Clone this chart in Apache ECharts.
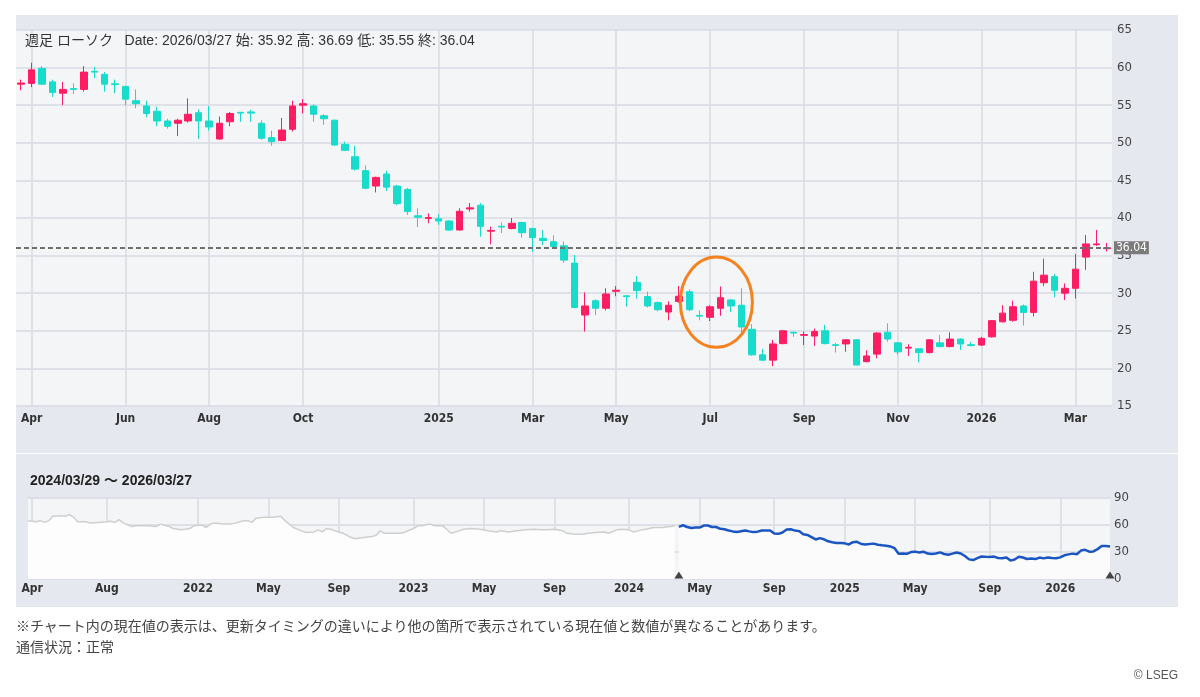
<!DOCTYPE html>
<html>
<head>
<meta charset="utf-8">
<script src="https://cdn.jsdelivr.net/npm/echarts@6/dist/echarts.min.js"></script>
<style>
  body { margin: 0; background: #fff; font-family: "Liberation Sans", "Noto Sans CJK JP", sans-serif; }
  #wrap { position: relative; width: 1200px; height: 697px; overflow: hidden; }
  .panel { position: absolute; left: 16px; width: 1162px; background: #e6e8f0; }
  #p1 { top: 15px; height: 438px; }
  #p2 { top: 454px; height: 153px; }
  #chart { position: absolute; left: 0; top: 0; width: 1200px; height: 697px; }
  .note { position: absolute; left: 16px; font-size: 14px; color: #444; }
  #copy { position: absolute; right: 22px; top: 668px; font-size: 12px; color: #555; }
</style>
</head>
<body>
<div id="wrap">
  <div class="panel" id="p1"></div>
  <div class="panel" id="p2"></div>
  <div id="chart"></div>
  <div class="note" style="top:615px">※チャート内の現在値の表示は、更新タイミングの違いにより他の箇所で表示されている現在値と数値が異なることがあります。</div>
  <div class="note" style="top:636px">通信状況：正常</div>
  <div id="copy">© LSEG</div>
</div>
<script>
// 週足 2024/03/29 ～ 2026/03/27 (105本)
var opens = [57.8, 57.9, 59.9, 58.1, 56.6, 57.2, 57.1, 59.5, 59.1, 57.85,
  57.5, 55.6, 54.9, 54.2, 52.9, 52.6, 52.9, 54.0, 52.9, 50.5,
  52.8, 54.05, 54.1, 52.6, 50.7, 50.3, 51.8, 55.0, 54.9, 53.6,
  53.0, 49.8, 48.15, 46.3, 44.25, 45.85, 44.25, 43.8, 40.3, 39.95,
  39.9, 39.6, 38.4, 41.2, 41.7, 38.25, 38.9, 38.6, 39.4, 38.6,
  37.3, 36.85, 36.3, 34.0, 27.1, 29.0, 28.0, 30.25, 29.65, 31.45,
  29.55, 28.75, 27.5, 28.9, 30.2, 27.05, 26.8, 28.0, 29.1, 28.4,
  25.2, 21.8, 21.1, 23.3, 24.8, 24.4, 24.3, 25.0, 23.15, 23.25,
  23.8, 20.9, 21.9, 24.8, 23.4, 22.7, 22.6, 22.1, 23.4, 22.9,
  23.9, 23.15, 23.1, 24.2, 26.2, 26.4, 28.3, 27.45, 31.4, 32.2,
  30.0, 30.65, 34.8, 36.45, 35.92];
var closes = [57.95, 59.7, 57.8, 56.7, 57.1, 57.1, 59.4, 59.4, 57.8, 57.75,
  55.8, 55.2, 53.9, 52.9, 52.2, 53.0, 53.8, 52.9, 52.1, 52.6,
  53.9, 53.95, 53.95, 50.6, 50.15, 51.7, 54.9, 55.2, 53.8, 53.2,
  49.7, 49.0, 46.5, 43.95, 45.4, 44.1, 41.9, 40.85, 40.1, 40.05,
  39.6, 38.4, 40.9, 41.35, 38.9, 38.35, 38.8, 39.3, 38.05, 37.4,
  37.0, 36.2, 34.4, 28.1, 28.3, 28.0, 29.9, 30.4, 29.55, 30.35,
  28.3, 27.8, 28.4, 29.6, 27.8, 26.95, 28.2, 29.4, 28.3, 25.5,
  21.8, 21.1, 23.25, 25.0, 24.7, 24.5, 24.9, 23.3, 23.05, 23.8,
  20.45, 21.65, 24.7, 23.9, 22.2, 22.8, 22.1, 23.8, 22.9, 23.9,
  23.25, 23.05, 24.0, 26.35, 27.35, 28.2, 27.45, 31.6, 32.4, 30.4,
  30.65, 33.2, 36.55, 36.55, 36.04];
var lows = [57.0, 57.4, 57.7, 56.1, 55.0, 56.5, 56.8, 58.6, 56.8, 56.6,
  55.0, 54.6, 53.4, 52.2, 51.9, 50.9, 52.7, 50.5, 51.6, 50.4,
  52.2, 52.8, 52.8, 50.4, 49.6, 50.2, 51.5, 53.9, 52.8, 52.4,
  49.6, 48.9, 46.3, 43.9, 43.4, 43.6, 41.7, 40.4, 38.8, 39.3,
  39.1, 38.3, 38.35, 40.85, 37.5, 36.5, 38.0, 38.5, 37.4, 35.5,
  36.4, 36.0, 34.05, 28.0, 24.9, 27.1, 27.7, 29.6, 28.2, 29.3,
  28.1, 27.6, 26.4, 28.7, 27.6, 26.4, 26.3, 27.0, 27.5, 24.3,
  21.7, 21.0, 20.3, 23.2, 24.2, 23.1, 23.0, 23.2, 22.1, 22.2,
  20.4, 20.8, 21.35, 23.55, 21.8, 21.65, 20.8, 22.0, 22.8, 22.8,
  22.45, 22.9, 23.0, 24.1, 26.1, 26.2, 25.7, 26.9, 30.95, 29.45,
  29.1, 29.3, 33.1, 36.3, 35.55];
var highs = [58.4, 60.65, 60.2, 58.4, 58.1, 57.9, 60.2, 60.1, 59.4, 58.4,
  57.6, 57.1, 55.6, 54.8, 53.2, 53.2, 55.9, 54.45, 54.9, 53.5,
  54.1, 54.1, 54.4, 53.0, 51.6, 53.3, 55.6, 55.8, 55.1, 53.8,
  53.1, 50.15, 49.6, 47.0, 45.5, 46.3, 44.4, 44.0, 41.3, 40.6,
  40.5, 39.7, 41.3, 42.0, 42.0, 38.85, 39.4, 40.0, 39.5, 38.7,
  38.4, 37.7, 36.85, 35.1, 30.1, 29.2, 30.65, 30.95, 29.7, 32.3,
  30.2, 28.9, 28.9, 30.95, 30.5, 27.7, 28.4, 30.9, 29.2, 30.65,
  25.9, 22.6, 23.8, 25.1, 24.9, 24.9, 25.3, 25.8, 23.4, 23.9,
  23.9, 22.4, 24.8, 26.0, 23.5, 23.2, 22.7, 23.9, 24.45, 24.8,
  24.0, 23.55, 24.2, 26.4, 28.4, 29.0, 28.5, 32.85, 34.6, 32.55,
  31.3, 35.2, 37.75, 38.4, 36.69];

// ナビゲーター (2021/03/26 からの週番号, 値) 2024/03/22 まで
var grayPoints = [[0,64.8],[2,63.6],[3,64.8],[4,62.9],[5,64.8],[6,69.7],[8,70.4],[9,69.7],[10,71.6],[11,68.5],
  [12,63.6],[14,63.6],[15,62.1],[17,62.9],[19,63.6],[20,64.2],[21,62.9],[22,65.9],[23,62.1],[25,58.4],
  [26,59.1],[29,59.1],[31,58.4],[32,61.0],[34,58.4],[35,56.1],[37,54.6],[39,56.1],[40,59.1],[42,59.9],
  [43,57.2],[44,61.0],[45,62.1],[47,61.0],[49,61.0],[50,62.1],[52,64.8],[53,64.8],[54,62.9],[55,67.4],
  [57,68.5],[59,68.5],[61,69.7],[62,64.8],[64,57.2],[66,53.5],[67,51.6],[69,52.3],[70,54.6],[71,52.3],
  [72,56.1],[73,55.3],[75,52.3],[76,50.8],[78,46.0],[79,44.8],[81,46.0],[83,47.1],[84,48.6],[85,53.5],
  [86,50.8],[88,50.8],[90,50.8],[91,52.3],[93,56.1],[94,59.1],[95,59.1],[97,61.0],[98,59.1],[100,59.1],
  [101,55.3],[102,50.8],[104,53.5],[105,55.3],[107,56.1],[109,55.3],[111,53.5],[113,52.3],[114,53.5],[116,52.3],
  [118,53.5],[120,54.6],[122,55.3],[124,54.6],[125,54.6],[127,55.3],[129,53.5],[130,50.8],[132,49.7],[134,49.7],
  [135,50.8],[137,51.6],[139,52.3],[140,50.8],[142,54.6],[143,55.3],[145,54.6],[146,52.3],[148,54.6],[149,55.3],
  [151,57.2],[153,57.2],[155,58.4],[156,59.1]];

var mainLabelMonths = ['2024-04','2024-06','2024-08','2024-10','2025-01','2025-03','2025-05',
  '2025-07','2025-09','2025-11','2026-01','2026-03'];
var navLabelMonths = ['2021-04','2021-08','2022-01','2022-05','2022-09','2023-01','2023-05',
  '2023-09','2024-01','2024-05','2024-09','2025-01','2025-05','2025-09','2026-01'];
var monthNames = ['Jan','Feb','Mar','Apr','May','Jun','Jul','Aug','Sep','Oct','Nov','Dec'];

function pad(n) { return (n < 10 ? '0' : '') + n; }
var navDates = [];
var t0 = Date.UTC(2021, 2, 26);
for (var w = 0; w < 262; w++) {
  var d = new Date(t0 + w * 7 * 86400000);
  navDates.push(d.getUTCFullYear() + '/' + pad(d.getUTCMonth() + 1) + '/' + pad(d.getUTCDate()));
}
var mainDates = navDates.slice(157);

function tickSet(dates, months) {
  var s = {};
  dates.forEach(function (v, i) {
    var key = v.slice(0, 7).replace('/', '-');
    var prev = i > 0 ? dates[i - 1].slice(0, 7).replace('/', '-') : null;
    if (months.indexOf(key) >= 0 && key !== prev) s[v] = true;
  });
  return s;
}
var mainTicks = tickSet(mainDates, mainLabelMonths);
var navTicks = tickSet(navDates, navLabelMonths);

function fmtDate(v) {
  var m = parseInt(v.slice(5, 7), 10);
  return m === 1 ? v.slice(0, 4) : monthNames[m - 1];
}

var last = closes.length - 1;
var header = '週足 ローソク   Date: ' + mainDates[last] + ' 始: ' + opens[last].toFixed(2) +
  ' 高: ' + highs[last].toFixed(2) + ' 低: ' + lows[last].toFixed(2) + ' 終: ' + closes[last].toFixed(2);

var candles = mainDates.map(function (d, i) { return [opens[i], closes[i], lows[i], highs[i]]; });
var narrow = '"Liberation Sans Narrow", "DejaVu Sans Condensed", sans-serif';
var gridColor = '#d9dae4';

var myChart = echarts.init(document.getElementById('chart'));
myChart.setOption({
  animation: false,
  backgroundColor: 'transparent',
  title: [
    { text: header, left: 20, top: 29,
      textStyle: { fontSize: 14, fontWeight: 'normal', color: '#333', fontFamily: '"Liberation Sans", "Noto Sans CJK JP"' } },
    { text: mainDates[0] + ' ～ ' + mainDates[last], left: 25, top: 469,
      textStyle: { fontSize: 14, fontWeight: 'bold', color: '#222', fontFamily: '"Liberation Sans", "Noto Sans CJK JP"' } }
  ],
  grid: [
    { left: 16, right: 88, top: 30, height: 376, show: true, backgroundColor: '#f4f5f7', borderWidth: 0 },
    { left: 28, right: 90, top: 498, height: 81, show: true, backgroundColor: '#f4f5f7', borderWidth: 0 }
  ],
  xAxis: [
    { type: 'category', gridIndex: 0, data: mainDates, boundaryGap: true,
      axisLine: { show: false }, axisTick: { show: false },
      axisLabel: { interval: function (i, v) { return !!mainTicks[v]; }, formatter: fmtDate,
        color: '#333', fontSize: 12, fontWeight: 'bold', fontFamily: narrow, margin: 7 },
      splitLine: { show: true, alignWithLabel: true, interval: function (i, v) { return !!mainTicks[v]; },
        lineStyle: { color: gridColor, width: 1.5 } } },
    { type: 'category', gridIndex: 1, data: navDates, boundaryGap: false,
      axisLine: { show: false }, axisTick: { show: false },
      axisLabel: { interval: function (i, v) { return !!navTicks[v]; }, formatter: fmtDate,
        color: '#333', fontSize: 12, fontWeight: 'bold', fontFamily: narrow, margin: 4 },
      splitLine: { show: true, interval: function (i, v) { return !!navTicks[v]; },
        lineStyle: { color: gridColor, width: 1.5 } } }
  ],
  yAxis: [
    { type: 'value', gridIndex: 0, position: 'right', min: 15, max: 65, interval: 5,
      axisLine: { show: false }, axisTick: { show: false },
      axisLabel: { color: '#444', fontSize: 13, fontFamily: narrow, margin: 5 },
      splitLine: { lineStyle: { color: gridColor, width: 1.5 } } },
    { type: 'value', gridIndex: 1, position: 'right', min: 0, max: 90, interval: 30,
      axisLine: { show: false }, axisTick: { show: false },
      axisLabel: { color: '#444', fontSize: 13, fontFamily: narrow, margin: 4 },
      splitLine: { lineStyle: { color: gridColor, width: 1.5 } } }
  ],
  series: [
    { name: '週足', type: 'candlestick', xAxisIndex: 0, yAxisIndex: 0, data: candles, barWidth: 7,
      itemStyle: { color: '#ff1d63', color0: '#17dccb', borderColor: '#ff1d63', borderColor0: '#17dccb', borderWidth: 1 },
      markLine: { silent: true, symbol: 'none',
        data: [{ yAxis: closes[last] }],
        lineStyle: { type: [5, 3], color: '#6f6f6f', width: 2 },
        label: { position: 'end', formatter: closes[last].toFixed(2), distance: 2,
          backgroundColor: '#7b7b7b', color: '#fff', padding: [1, 2, 0, 2], fontSize: 12, fontFamily: narrow } } },
    { name: 'history', type: 'line', xAxisIndex: 1, yAxisIndex: 1, symbol: 'none',
      data: grayPoints.map(function (p) { return [navDates[p[0]], p[1]]; }),
      lineStyle: { color: '#cfcfcf', width: 1.5 }, areaStyle: { color: '#fdfdfe', opacity: 1 } },
    { name: 'range', type: 'line', xAxisIndex: 1, yAxisIndex: 1, symbol: 'none',
      data: mainDates.map(function (d, i) { return [d, closes[i]]; }),
      lineStyle: { color: '#1a55c2', width: 2.5 }, areaStyle: { color: '#fcfbfb', opacity: 1 },
      markPoint: { symbol: 'triangle', symbolSize: [9, 7], symbolOffset: [0, -4], silent: true,
        itemStyle: { color: '#444' }, label: { show: false },
        data: [{ coord: [mainDates[0], 0] }, { coord: [mainDates[last], 0] }] } }
  ]
});

// 注目箇所の円 (データ座標から配置)
var c = myChart.convertToPixel({ xAxisIndex: 0, yAxisIndex: 0 }, [mainDates[66], 28.8]);
var e = myChart.convertToPixel({ xAxisIndex: 0, yAxisIndex: 0 }, [mainDates[69], 34.8]);
var step = myChart.convertToPixel({ xAxisIndex: 0 }, mainDates[1]) - myChart.convertToPixel({ xAxisIndex: 0 }, mainDates[0]);
myChart.setOption({
  graphic: [{ type: 'ellipse', z: 100,
    shape: { cx: c[0] + step * 0.6, cy: c[1], rx: step * 3.45, ry: c[1] - e[1] },
    style: { fill: 'none', stroke: '#f5821f', lineWidth: 3 } }]
});
</script>
</body>
</html>
